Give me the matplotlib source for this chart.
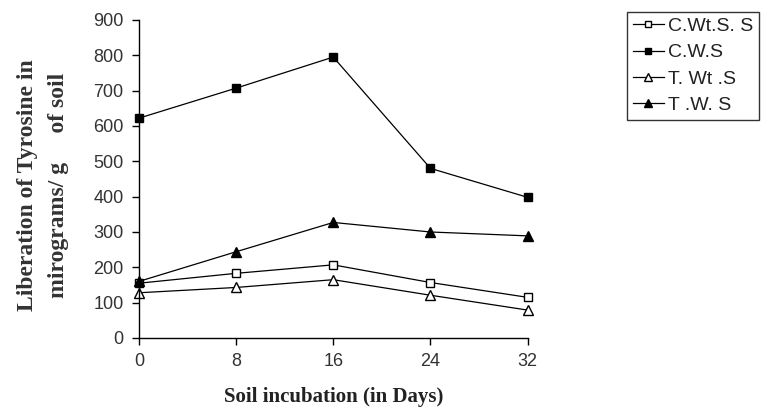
import matplotlib
matplotlib.use("Agg")
import matplotlib.pyplot as plt

days = [0, 8, 16, 24, 32]
c_wt_s_s = [155, 183, 207, 157, 115]
c_w_s = [622, 707, 795, 480, 398]
t_wt_s = [128, 143, 165, 121, 79]
t_w_s = [160, 244, 327, 300, 289]
labels = ["C.Wt.S. S", "C.W.S", "T. Wt .S", "T .W. S"]
yticks = list(range(0, 901, 100))

fig = plt.figure(figsize=(7.67, 4.16), dpi=100)
ax = fig.add_axes([0.181, 0.1875, 0.507, 0.7645])

ms = 6
ax.plot(days, c_wt_s_s, color="black", lw=0.9, marker="s", ms=ms, mfc="white", mec="black", mew=1.0, label=labels[0])
ax.plot(days, c_w_s, color="black", lw=0.9, marker="s", ms=ms, mfc="black", mec="black", label=labels[1])
ax.plot(days, t_wt_s, color="black", lw=0.9, marker="^", ms=ms + 1, mfc="white", mec="black", mew=1.0, label=labels[2])
ax.plot(days, t_w_s, color="black", lw=0.9, marker="^", ms=ms + 1, mfc="black", mec="black", label=labels[3])

ax.set_xlim(0, 32)
ax.set_ylim(0, 900)
ax.set_xticks(days)
ax.set_yticks(yticks)
for s in ["top", "right"]:
    ax.spines[s].set_visible(False)
for s in ["left", "bottom"]:
    ax.spines[s].set_linewidth(1.0)
ax.tick_params(direction="out", length=5, width=1.0, colors="black", labelcolor="#333333", labelsize=13, pad=6)
for t in ax.get_xticklabels() + ax.get_yticklabels():
    t.set_family("Liberation Sans")
for ln in ax.lines:
    ln.set_clip_on(False)

ax.set_xlabel("Soil incubation (in Days)", family="Liberation Serif", fontweight="bold", fontsize=15, color="#222222", labelpad=12)
fig.text(0.036, 0.555, "Liberation of Tyrosine in", rotation=90, ha="center", va="center",
         family="Liberation Serif", fontweight="bold", fontsize=17, color="#333333")
fig.text(0.076, 0.555, "mirograms/ g     of soil", rotation=90, ha="center", va="center",
         family="Liberation Serif", fontweight="bold", fontsize=17, color="#333333")

leg = fig.legend(loc="upper left", bbox_to_anchor=(0.8175, 0.972), frameon=True, fancybox=False,
                 edgecolor="black", handlelength=1.6, handletextpad=0.2, borderpad=0.3,
                 borderaxespad=0, labelspacing=0.45, prop={"family": "Liberation Sans", "size": 14}, markerscale=0.8)
leg.get_frame().set_linewidth(1.0)
for t in leg.get_texts():
    t.set_color("#222222")

fig.savefig("out.png", dpi=100)
